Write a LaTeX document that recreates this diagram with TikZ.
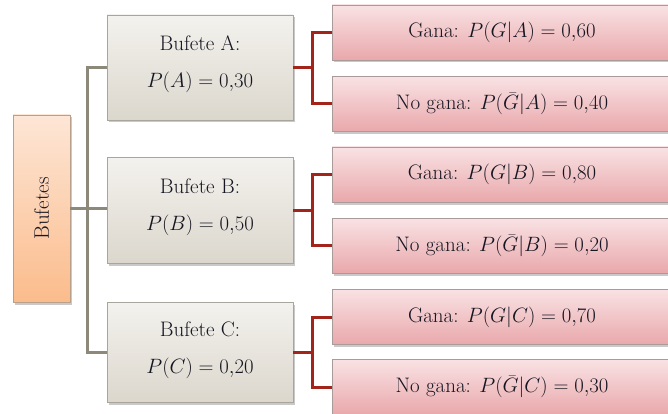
\documentclass[tikz,border=0pt]{standalone}
\usetikzlibrary{shadows}
\definecolor{txt}{RGB}{22,22,34}
\definecolor{peachtop}{RGB}{253,230,214}
\definecolor{peachbot}{RGB}{251,188,140}
\definecolor{peachedge}{RGB}{185,160,140}
\definecolor{greytop}{RGB}{244,242,238}
\definecolor{greybot}{RGB}{219,215,205}
\definecolor{greyedge}{RGB}{168,165,156}
\definecolor{pinktop}{RGB}{249,226,228}
\definecolor{pinkbot}{RGB}{233,168,171}
\definecolor{pinkedge}{RGB}{170,155,155}
\definecolor{trunkcol}{RGB}{141,137,122}
\definecolor{branchcol}{RGB}{163,36,26}
\tikzset{
  lbl/.style={text=txt, align=center, font=\fontsize{21}{37}\selectfont},
  base/.style={draw, line width=0.8pt, lbl,
    drop shadow={shadow xshift=1.5pt, shadow yshift=-2.5pt, opacity=0.35, fill=black!60}},
  rootbox/.style={base, draw=peachedge, top color=peachtop, bottom color=peachbot,
    minimum width=57pt, minimum height=187pt},
  firmbox/.style={base, draw=greyedge, top color=greytop, bottom color=greybot,
    minimum width=186pt},
  outbox/.style={base, draw=pinkedge, top color=pinktop, bottom color=pinkbot,
    minimum width=340pt, minimum height=55pt},
  trunk/.style={draw=trunkcol, line width=3pt},
  branch/.style={draw=branchcol, line width=3pt},
}
\begin{document}
\begin{tikzpicture}[x=1pt, y=-1pt]
\clip (0,0) rectangle (668,414);
\fill[white] (0,0) rectangle (668,414);

% root
\node[rootbox] (buf) at (41.5,208.5) {\rotatebox{90}{Bufetes}};

% firms: boxes, then their two-line labels set slightly above centre
\node[firmbox, minimum height=105pt] (A) at (200,67.5) {};
\node[firmbox, minimum height=106pt] (B) at (200,210) {};
\node[firmbox, minimum height=100pt] (C) at (200,352) {};
\node[lbl] (At) at ([yshift=3pt]A.center) {Bufete A:\\$P(A)=0{,}30$};
\node[lbl] (Bt) at ([yshift=3pt]B.center) {Bufete B:\\$P(B)=0{,}50$};
\node[lbl] (Ct) at ([yshift=2pt]C.center) {Bufete C:\\$P(C)=0{,}20$};

% outcomes
\node[outbox] (GA) at (502,32.5)  {Gana: $P(G|A)=0{,}60$};
\node[outbox] (NA) at (502,104)   {No gana: $P(\bar{G}|A)=0{,}40$};
\node[outbox] (GB) at (502,174.5) {Gana: $P(G|B)=0{,}80$};
\node[outbox] (NB) at (502,245.5) {No gana: $P(\bar{G}|B)=0{,}20$};
\node[outbox] (GC) at (502,317)   {Gana: $P(G|C)=0{,}70$};
\node[outbox] (NC) at (502,387)   {No gana: $P(\bar{G}|C)=0{,}30$};

% grey trunk from the root to the firms
\draw[trunk] (A.west) -- ++(-19,0) |- (C.west);
\draw[trunk] (buf.east) -- (buf.east -| B.west);

% red branches from each firm to its outcomes
\foreach \f/\g/\n in {A/GA/NA, B/GB/NB, C/GC/NC}{
  \draw[branch] (\f.east) -- ++(19,0) coordinate (j\f);
  \draw[branch] (\g.west) -| (j\f) |- (\n.west);
}
\end{tikzpicture}
\end{document}
